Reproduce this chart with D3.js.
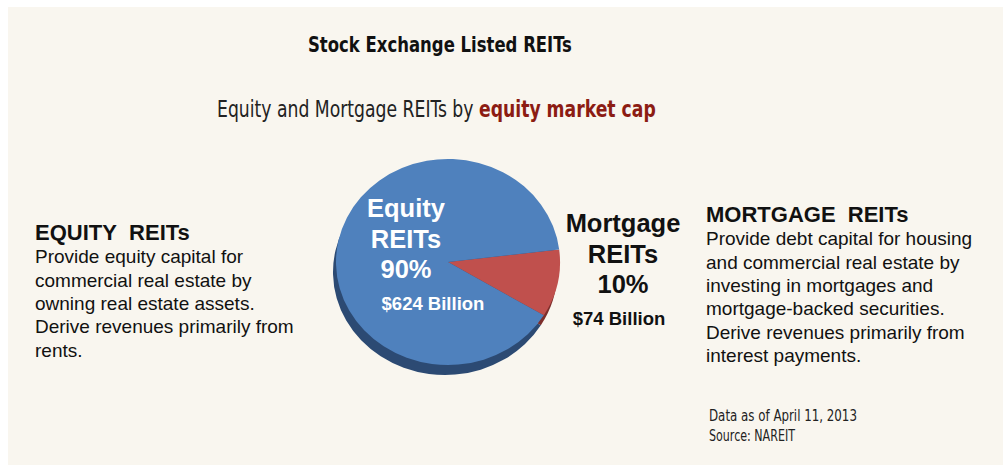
<!DOCTYPE html>
<html>
<head>
<meta charset="utf-8">
<script src="https://cdn.jsdelivr.net/npm/d3@7"></script>
<style>
  body { margin: 0; background: #fff; }
  svg { display: block; }
  .narrow { font-family: "Liberation Sans Narrow", "DejaVu Sans Condensed", sans-serif; }
  .sans { font-family: "Liberation Sans", Helvetica, Arial, sans-serif; }
</style>
</head>
<body>
<div id="chart"></div>
<script>
// data
const categories = ["Mortgage REITs", "Equity REITs"];
const capBillions = [74, 624];
const pctLabels = ["10%", "90%"];
const amountLabels = ["$74 Billion", "$624 Billion"];
const equityText = ["Provide equity capital for", "commercial real estate by",
  "owning real estate assets.", "Derive revenues primarily from", "rents."];
const mortgageText = ["Provide debt capital for housing", "and commercial real estate by",
  "investing in mortgages and", "mortgage-backed securities.",
  "Derive revenues primarily from", "interest payments."];
const footer = ["Data as of April 11, 2013", "Source: NAREIT"];

const width = 1003, height = 467;
const svg = d3.select("#chart").append("svg")
  .attr("width", width).attr("height", height);

// paper
svg.append("rect").attr("x", 8).attr("y", 7)
  .attr("width", width - 8).attr("height", 458)
  .attr("fill", "#f9f6ef");

// condensed text: squeeze the group horizontally to the width seen in the slide
function narrow(x, y, size, weight, fill, len, fillText) {
  const g = svg.append("g");
  const t = g.append("text").attr("class", "narrow")
    .attr("font-size", size).attr("font-weight", weight).attr("fill", fill);
  fillText(t);
  const k = len / t.node().getComputedTextLength();
  g.attr("transform", `translate(${x},${y}) scale(${k},1)`);
  return t;
}
narrow(308, 52, 21, "bold", "#111", 264, t => t.text("Stock Exchange Listed REITs"));
narrow(217, 117, 23, "normal", "#222", 439, t => {
  t.append("tspan").text("Equity and Mortgage REITs by ");
  t.append("tspan").attr("font-weight", "bold").attr("fill", "#8c1c13").text("equity market cap");
});

// pie
const cx = 448, cy = 262, r = 112, squash = 0.92, depth = 10;
const colors = ["#c0504d", "#4f81bd"];
const sideColors = ["#7d2e2b", "#2c4a73"];
const deg = Math.PI / 180;
const pie = d3.pie().sort(null).startAngle(83 * deg).endAngle(443 * deg);
const arcs = pie(capBillions);
const arc = d3.arc().innerRadius(0).outerRadius(r);

const sideG = svg.append("g")
  .attr("transform", `translate(${cx - 3},${cy + depth}) scale(1,${squash})`);
sideG.selectAll("path").data(arcs).join("path")
  .attr("d", arc).attr("fill", (d, i) => sideColors[i]);

const faceG = svg.append("g")
  .attr("transform", `translate(${cx},${cy}) scale(1,${squash})`);
faceG.selectAll("path").data(arcs).join("path")
  .attr("d", arc).attr("fill", (d, i) => colors[i]);

// slice labels
function sliceLabel(x, y, lines, amount, fill, dx) {
  const t = svg.append("text").attr("class", "sans").attr("text-anchor", "middle")
    .attr("font-weight", "bold").attr("fill", fill);
  lines.forEach((l, k) => t.append("tspan").attr("x", x).attr("y", y + k * 30.5)
    .attr("font-size", 25.5).text(l));
  t.append("tspan").attr("x", x + dx).attr("y", y + 93)
    .attr("font-size", 18.5).text(amount);
}
sliceLabel(406, 217, ["Equity", "REITs", pctLabels[1]], amountLabels[1], "#fff", 27);
sliceLabel(623, 232, ["Mortgage", "REITs", pctLabels[0]], amountLabels[0], "#111", -4);

// side descriptions
function block(x, y, head, lines) {
  const t = svg.append("text").attr("class", "sans").attr("fill", "#111");
  t.append("tspan").attr("x", x).attr("y", y).attr("font-size", 22)
    .attr("font-weight", "bold").text(head);
  lines.forEach((l, k) => t.append("tspan").attr("x", x).attr("y", y + 23.3 * (k + 1))
    .attr("font-size", 19).text(l));
}
block(35, 240, "EQUITY\u00a0 REITs", equityText);
block(706, 222, "MORTGAGE\u00a0 REITs", mortgageText);

// footer
narrow(709, 421, 15.5, "normal", "#222", 148, t => t.text(footer[0]));
narrow(709, 441, 15.5, "normal", "#222", 86, t => t.text(footer[1]));
</script>
</body>
</html>
